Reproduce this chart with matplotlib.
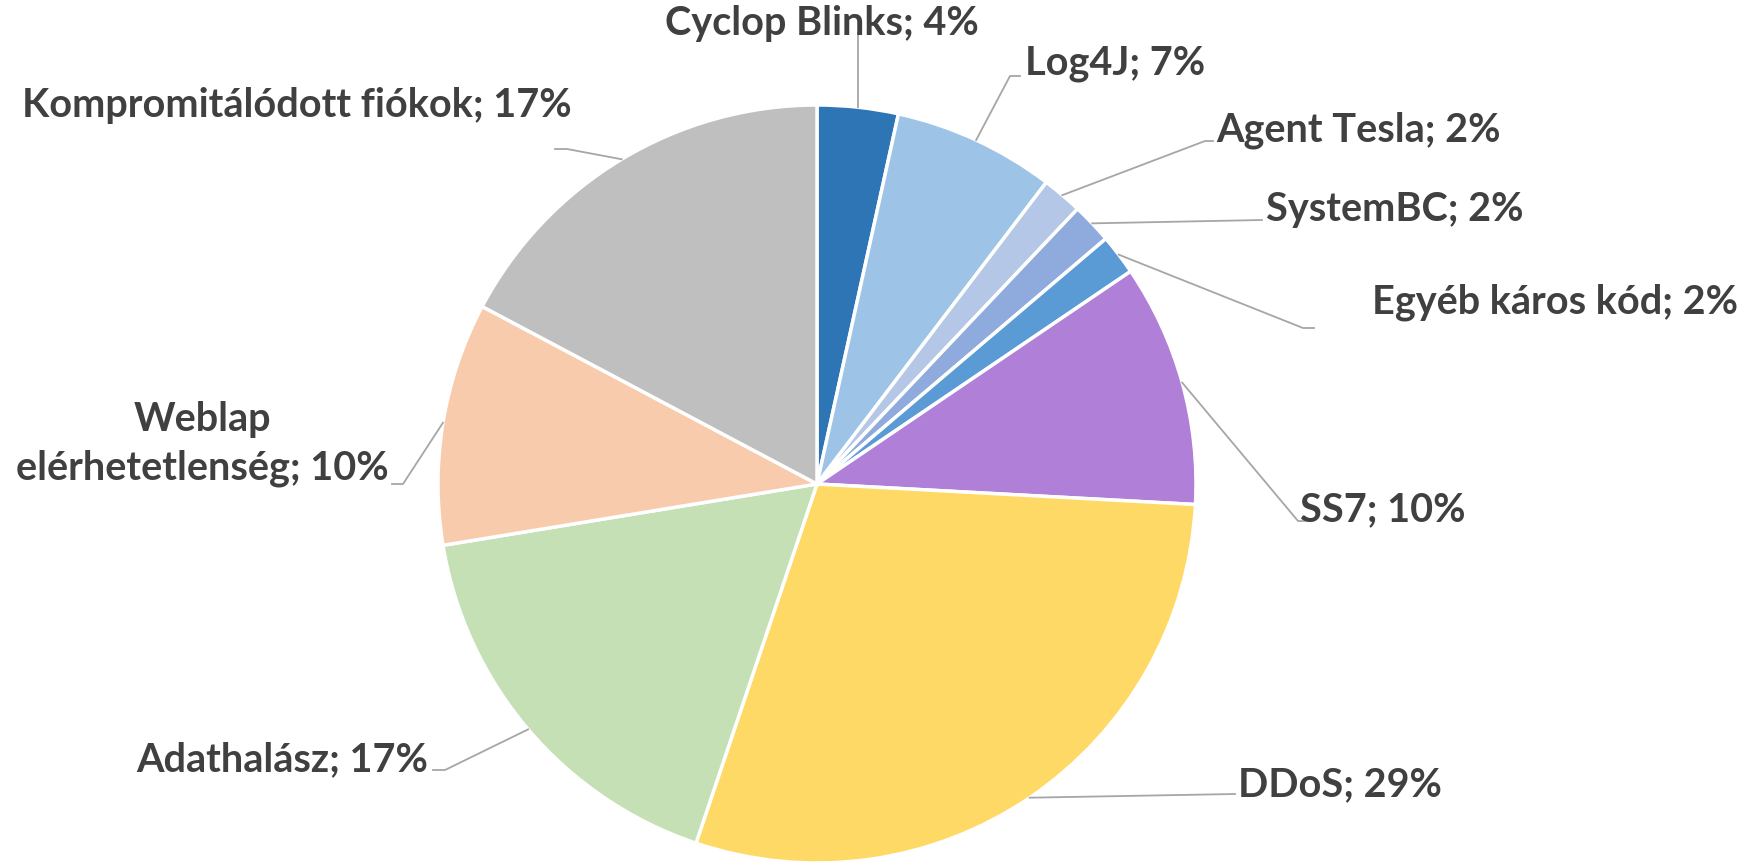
import matplotlib.pyplot as plt
import numpy as np

# incident counts per category (clockwise from top)
categories = ['Cyclop Blinks', 'Log4J', 'Agent Tesla', 'SystemBC', 'Egyéb káros kód',
              'SS7', 'DDoS', 'Adathalász', 'Weblap\nelérhetetlenség', 'Kompromitálódott fiókok']
counts = [2, 4, 1, 1, 1, 6, 17, 10, 6, 10]
pct_labels = ['4%', '7%', '2%', '2%', '2%', '10%', '29%', '17%', '10%', '17%']
colors = ['#2E75B6', '#9DC3E6', '#B4C7E7', '#8FAADC', '#5B9BD5',
          '#B07FD8', '#FFD966', '#C5E0B4', '#F8CBAD', '#BFBFBF']

W, H = 1742, 865


def Y(y):
    # pixel row (from top) -> data y
    return H - y


# label text position (x, y from top, ha) and leader end/elbow points
label_pos = [
    (822, 24, 'center', [(858, 33)]),
    (1025, 64, 'left', [(1010, 76), (1020, 76)]),
    (1216, 130, 'left', [(1205, 141), (1213, 141)]),
    (1266, 209, 'left', [(1262, 220)]),
    (1372, 302, 'left', [(1303, 328), (1314, 328)]),
    (1300, 510, 'left', [(1298, 521), (1310, 521)]),
    (1238, 785, 'left', [(1235, 794)]),
    (428, 760, 'right', [(445, 770), (433, 770)]),
    (202, 444, 'center', [(403, 484), (392, 484)]),
    (572, 106, 'right', [(567, 149), (555, 149)]),
]

fig = plt.figure(figsize=(W / 100, H / 100), dpi=100)
ax = fig.add_axes([0, 0, 1, 1])

center = (817, Y(484))
radius = 379
wedges, _ = ax.pie(counts, colors=colors, startangle=90, counterclock=False,
                   center=center, radius=radius,
                   wedgeprops=dict(edgecolor='white', linewidth=2.5))

for w, cat, pct, (tx, ty, ha, pts) in zip(wedges, categories, pct_labels, label_pos):
    mid = np.deg2rad((w.theta1 + w.theta2) / 2)
    sx = center[0] + radius * np.cos(mid)
    sy = center[1] + radius * np.sin(mid)
    xs = [sx] + [p[0] for p in pts]
    ys = [sy] + [Y(p[1]) for p in pts]
    ax.plot(xs, ys, color='#A6A6A6', lw=1.3, zorder=1)
    ax.text(tx, Y(ty), cat + '; ' + pct, ha=ha, va='center', fontsize=28.5,
            fontweight='bold', family='Lato', color='#404040', linespacing=1.4,
            multialignment='center')

ax.set_xlim(0, W)
ax.set_ylim(0, H)
ax.set_aspect('equal')
ax.axis('off')

plt.savefig('out.png', dpi=100, facecolor='white')
